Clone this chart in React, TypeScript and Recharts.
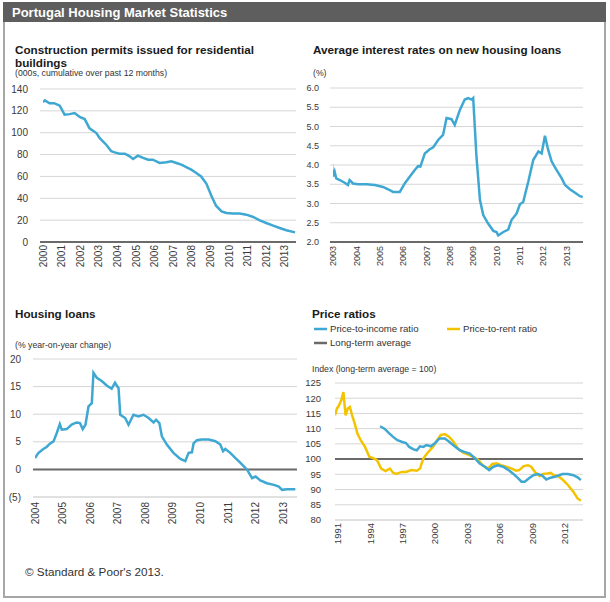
import React from "react";
import {
  LineChart,
  Line,
  XAxis,
  YAxis,
  CartesianGrid,
  ReferenceLine,
} from "recharts";

const FONT = "'Liberation Sans', Arial, sans-serif";
const BLUE = "#3fa8d2";
const YELLOW = "#f3c300";
const DARK = "#6a6a6a";
const GRID = "#d6d6d6";

// [year, value] pairs
const permits: [number, number][] = [
  [2000.0, 128], [2000.1, 129.6], [2000.35, 127], [2000.6, 127], [2000.9, 124.7],
  [2001.16, 116.5], [2001.43, 117], [2001.7, 118], [2001.97, 114.4], [2002.24, 112.5],
  [2002.5, 104], [2002.87, 99.7], [2003.05, 95], [2003.4, 89], [2003.67, 83],
  [2003.85, 82], [2004.12, 80.8], [2004.4, 80.8], [2004.66, 78.4], [2004.84, 76],
  [2005.1, 79], [2005.38, 76.9], [2005.65, 75.3], [2005.9, 75.3], [2006.27, 72.3],
  [2006.63, 72.9], [2006.9, 73.8], [2007.17, 72.3], [2007.44, 70.8], [2007.7, 68.6],
  [2007.97, 66.2], [2008.24, 63.1], [2008.5, 60], [2008.78, 53.4], [2009.05, 42.4],
  [2009.3, 33.2], [2009.6, 28], [2009.86, 26.5], [2010.2, 26], [2010.57, 26],
  [2010.93, 25], [2011.3, 22.9], [2011.65, 19.8], [2012.0, 17.4], [2012.37, 15],
  [2012.72, 12.8], [2013.08, 10.7], [2013.55, 8.8],
];

const rates: [number, number][] = [
  [2002.95, 4.04], [2003.0, 3.7], [2003.07, 3.83], [2003.14, 3.65], [2003.29, 3.61],
  [2003.5, 3.54], [2003.64, 3.48], [2003.71, 3.61], [2003.86, 3.52], [2004.07, 3.5],
  [2004.43, 3.5], [2004.79, 3.48], [2005.14, 3.43], [2005.36, 3.37], [2005.57, 3.3],
  [2005.86, 3.3], [2006.07, 3.52], [2006.29, 3.7], [2006.5, 3.87], [2006.64, 3.97],
  [2006.74, 3.96], [2006.93, 4.3], [2007.14, 4.41], [2007.29, 4.46], [2007.5, 4.65],
  [2007.71, 4.78], [2007.86, 5.22], [2008.07, 5.19], [2008.21, 5.04], [2008.43, 5.43],
  [2008.64, 5.7], [2008.79, 5.74], [2008.93, 5.7], [2009.0, 5.74], [2009.14, 4.22],
  [2009.29, 3.09], [2009.43, 2.7], [2009.64, 2.48], [2009.86, 2.29], [2010.0, 2.26],
  [2010.07, 2.17], [2010.29, 2.26], [2010.5, 2.32], [2010.64, 2.57], [2010.86, 2.74],
  [2011.0, 2.98], [2011.14, 3.04], [2011.36, 3.57], [2011.57, 4.13], [2011.79, 4.35],
  [2011.93, 4.3], [2012.07, 4.76], [2012.21, 4.39], [2012.36, 4.09], [2012.57, 3.87],
  [2012.79, 3.65], [2012.93, 3.48], [2013.14, 3.37], [2013.36, 3.28], [2013.57, 3.19],
  [2013.69, 3.17],
];

const loans: [number, number][] = [
  [2004.0, 2.07], [2004.12, 2.97], [2004.3, 3.7], [2004.42, 4.06], [2004.54, 4.66],
  [2004.67, 5.08], [2004.79, 6.6], [2004.9, 8.2], [2004.97, 7.2], [2005.15, 7.3],
  [2005.33, 8.1], [2005.51, 8.5], [2005.63, 8.4], [2005.73, 7.3], [2005.83, 8.1],
  [2005.94, 11.4], [2006.06, 12.0], [2006.12, 17.5], [2006.24, 16.6], [2006.42, 16.0],
  [2006.6, 15.2], [2006.78, 14.6], [2006.9, 15.7], [2007.03, 14.7], [2007.09, 9.9],
  [2007.27, 9.3], [2007.39, 8.1], [2007.57, 9.9], [2007.75, 9.6], [2007.93, 9.9],
  [2008.12, 9.3], [2008.3, 8.5], [2008.39, 9.0], [2008.51, 8.4], [2008.6, 6.0],
  [2008.78, 4.5], [2009.02, 3.0], [2009.27, 1.9], [2009.45, 1.5], [2009.57, 3.0],
  [2009.69, 3.1], [2009.75, 4.7], [2009.87, 5.3], [2010.05, 5.4], [2010.3, 5.4],
  [2010.54, 5.1], [2010.72, 4.5], [2010.82, 3.3], [2010.9, 3.7], [2011.08, 3.0],
  [2011.26, 2.1], [2011.45, 1.2], [2011.69, -0.05], [2011.87, -1.6], [2012.0, -1.3],
  [2012.17, -2.0], [2012.41, -2.5], [2012.66, -2.8], [2012.84, -3.1], [2012.96, -3.7],
  [2013.14, -3.6], [2013.44, -3.6],
];

const priceToRent: [number, number][] = [
  [1990.72, 114.4], [1990.9, 116.6], [1991.1, 117.7], [1991.3, 119.3], [1991.5, 122],
  [1991.7, 114.4], [1991.9, 116.6], [1992.1, 117.1], [1992.3, 114.4], [1992.5, 112.2],
  [1992.8, 108.4], [1993.1, 106.2], [1993.5, 104], [1993.9, 100.8], [1994.2, 100.4],
  [1994.6, 99.7], [1995.0, 96.9], [1995.4, 96.1], [1995.8, 96.9], [1996.1, 95.5],
  [1996.4, 95.1], [1996.9, 95.8], [1997.3, 95.8], [1997.8, 96.4], [1998.3, 96.2],
  [1998.6, 96.9], [1998.9, 100.2], [1999.3, 102.1], [1999.8, 104], [2000.1, 105.7],
  [2000.5, 107.9], [2000.9, 108.2], [2001.3, 107.3], [2001.7, 105.7], [2002.1, 103.5],
  [2002.6, 102.1], [2003.0, 101.6], [2003.5, 100.8], [2004.0, 99.7], [2004.4, 98],
  [2004.9, 96.9], [2005.3, 98.4], [2005.7, 98.6], [2006.1, 98], [2006.6, 97.5],
  [2007.1, 96.9], [2007.5, 96.2], [2007.8, 96.4], [2008.2, 97.7], [2008.6, 98],
  [2008.9, 97.5], [2009.3, 95.5], [2009.7, 94.4], [2010.0, 95.1], [2010.4, 95.3],
  [2010.7, 95.5], [2011.0, 94.7], [2011.4, 94.4], [2011.8, 93.3], [2012.3, 91.5],
  [2012.8, 89.3], [2013.2, 87.1], [2013.5, 86.3],
];

const priceToIncome: [number, number][] = [
  [1994.9, 110.8], [1995.3, 110], [1995.7, 108.6], [1996.1, 107.3], [1996.5, 106.2],
  [1996.9, 105.7], [1997.3, 105.3], [1997.6, 104], [1998.0, 103.2], [1998.3, 102.9],
  [1998.6, 104.2], [1998.9, 104], [1999.2, 104.6], [1999.6, 104.2], [2000.0, 105.3],
  [2000.4, 106.8], [2000.9, 106.8], [2001.3, 105.7], [2001.8, 104.2], [2002.3, 102.9],
  [2002.7, 102.4], [2003.2, 101.8], [2003.7, 100.2], [2004.1, 98.6], [2004.6, 97.5],
  [2005.0, 96.4], [2005.4, 97.5], [2005.8, 98], [2006.3, 97.5], [2006.8, 96.4],
  [2007.2, 95.3], [2007.7, 93.7], [2008.0, 92.6], [2008.3, 92.6], [2008.7, 93.7],
  [2009.1, 94.7], [2009.5, 95.1], [2009.9, 94.7], [2010.3, 93.3], [2010.7, 93.9],
  [2011.1, 94.2], [2011.5, 94.7], [2011.8, 95.1], [2012.3, 95.1], [2012.8, 94.7],
  [2013.2, 94], [2013.5, 93.1],
];

const permitTicksX = [2000, 2001, 2002, 2003, 2004, 2005, 2006, 2007, 2008, 2009, 2010, 2011, 2012, 2013];
const permitTicksY = [0, 20, 40, 60, 80, 100, 120, 140];
const rateTicksX = [2003, 2004, 2005, 2006, 2007, 2008, 2009, 2010, 2011, 2012, 2013];
const rateTicksY = [2, 2.5, 3, 3.5, 4, 4.5, 5, 5.5, 6];
const loanTicksX = [2004, 2005, 2006, 2007, 2008, 2009, 2010, 2011, 2012, 2013];
const loanTicksY = [-5, 0, 5, 10, 15, 20];
const ratioTicksX = [1991, 1994, 1997, 2000, 2003, 2006, 2009, 2012];
const ratioTicksY = [80, 85, 90, 95, 100, 105, 110, 115, 120, 125];

const ratioLegend = [
  { label: "Price-to-income ratio", color: BLUE, x: 314, y: 329 },
  { label: "Price-to-rent ratio", color: YELLOW, x: 447, y: 329 },
  { label: "Long-term average", color: DARK, x: 314, y: 343 },
];

const toPts = (arr: [number, number][]) => arr.map(([x, y]) => ({ x, y }));

function RotTick(props: any) {
  const { x, y, payload, fs, gap } = props;
  return (
    <g transform={`translate(${x},${y + gap}) rotate(-90)`}>
      <text
        x={0}
        y={0}
        textAnchor="end"
        dy="0.35em"
        fontSize={fs}
        fontFamily={FONT}
        fill="#3a3a3a"
      >
        {payload.value}
      </text>
    </g>
  );
}

function Panel(props: {
  left: number;
  top: number;
  width: number;
  height: number;
  margin: { top: number; right: number; bottom: number; left: number };
  yWidth: number;
  xHeight: number;
  xDomain: [number, number];
  xTicks: number[];
  yDomain: [number, number];
  yTicks: number[];
  fs: number;
  padLeft: number;
  tickMargin: number;
  gap: number;
  darkAxis: boolean;
  refY?: number;
  yFormat?: (v: number) => string;
  children: React.ReactNode;
}) {
  const p = props;
  return (
    <div style={{ position: "absolute", left: p.left, top: p.top }}>
      <LineChart width={p.width} height={p.height} margin={p.margin}>
        <CartesianGrid vertical={false} stroke={GRID} strokeWidth={1} />
        <XAxis
          type="number"
          dataKey="x"
          domain={p.xDomain}
          ticks={p.xTicks}
          allowDataOverflow
          height={p.xHeight}
          padding={{ left: p.padLeft, right: 0 }}
          tickLine={false}
          tickSize={0}
          tickMargin={0}
          axisLine={
            p.darkAxis
              ? { stroke: DARK, strokeWidth: 2 }
              : { stroke: GRID, strokeWidth: 1 }
          }
          interval={0}
          tick={<RotTick fs={p.fs} gap={p.gap} />}
        />
        <YAxis
          type="number"
          domain={p.yDomain}
          ticks={p.yTicks}
          width={p.yWidth}
          interval={0}
          tickLine={false}
          axisLine={false}
          tickMargin={p.tickMargin}
          tickFormatter={p.yFormat}
          tick={{ fontSize: p.fs, fill: "#3a3a3a", fontFamily: FONT }}
        />
        {p.refY !== undefined && (
          <ReferenceLine y={p.refY} stroke={DARK} strokeWidth={2} />
        )}
        {p.children}
      </LineChart>
    </div>
  );
}

export default function App() {
  return (
    <div
      style={{
        position: "relative",
        width: 610,
        height: 602,
        background: "#fff",
        fontFamily: FONT,
        overflow: "hidden",
      }}
    >
      <style>{"body{margin:0}"}</style>
      <div
        style={{
          position: "absolute",
          left: 3,
          top: 2,
          width: 603,
          height: 596,
          border: "2px solid #a6a6a6",
          boxSizing: "border-box",
        }}
      />
      <div
        style={{
          position: "absolute",
          left: 3,
          top: 2,
          width: 603,
          height: 20,
          background: "#5e5e5e",
        }}
      />

      <Panel
        left={0}
        top={80}
        width={305}
        height={200}
        margin={{ top: 9, right: 9, bottom: 8, left: 0 }}
        yWidth={40}
        xHeight={30}
        xDomain={[2000, 2013.6]}
        xTicks={permitTicksX}
        yDomain={[0, 140]}
        yTicks={permitTicksY}
        fs={10}
        padLeft={3}
        tickMargin={6}
        gap={3}
        darkAxis
      >
        <Line data={toPts(permits)} dataKey="y" type="linear" stroke={BLUE} strokeWidth={2.5} dot={false} isAnimationActive={false} />
      </Panel>

      <Panel
        left={300}
        top={80}
        width={305}
        height={200}
        margin={{ top: 8, right: 22, bottom: 8, left: 0 }}
        yWidth={30}
        xHeight={30}
        xDomain={[2003, 2013.7]}
        xTicks={rateTicksX}
        yDomain={[2, 6]}
        yTicks={rateTicksY}
        fs={9}
        padLeft={3}
        tickMargin={5}
        gap={4}
        darkAxis
        yFormat={(v) => v.toFixed(1)}
      >
        <Line data={toPts(rates)} dataKey="y" type="linear" stroke={BLUE} strokeWidth={2.5} dot={false} isAnimationActive={false} />
      </Panel>

      <Panel
        left={0}
        top={340}
        width={305}
        height={190}
        margin={{ top: 19, right: 8, bottom: 5, left: 0 }}
        yWidth={33}
        xHeight={28}
        xDomain={[2004, 2013.5]}
        xTicks={loanTicksX}
        yDomain={[-5, 20]}
        yTicks={loanTicksY}
        fs={10}
        padLeft={2}
        tickMargin={6}
        gap={5}
        darkAxis={false}
        refY={0}
        yFormat={(v) => (v < 0 ? `(${Math.abs(v)})` : String(v))}
      >
        <Line data={toPts(loans)} dataKey="y" type="linear" stroke={BLUE} strokeWidth={2.5} dot={false} isAnimationActive={false} />
      </Panel>

      <Panel
        left={300}
        top={370}
        width={305}
        height={190}
        margin={{ top: 13, right: 22, bottom: 5, left: 0 }}
        yWidth={35}
        xHeight={35}
        xDomain={[1990.72, 2013.7]}
        xTicks={ratioTicksX}
        yDomain={[80, 125]}
        yTicks={ratioTicksY}
        fs={9.5}
        padLeft={0}
        tickMargin={8}
        gap={3}
        darkAxis={false}
        refY={100}
      >
        <Line data={toPts(priceToRent)} dataKey="y" type="linear" stroke={YELLOW} strokeWidth={2.5} dot={false} isAnimationActive={false} />
        <Line data={toPts(priceToIncome)} dataKey="y" type="linear" stroke={BLUE} strokeWidth={2.5} dot={false} isAnimationActive={false} />
      </Panel>

      <svg
        width={610}
        height={602}
        style={{ position: "absolute", left: 0, top: 0, pointerEvents: "none" }}
        fontFamily={FONT}
      >
        <text x={12} y={16.5} fontSize={13} fontWeight="bold" fill="#fff">
          Portugal Housing Market Statistics
        </text>

        <text x={15} y={54} fontSize={11.7} fontWeight="bold" fill="#1a1a1a">
          Construction permits issued for residential
        </text>
        <text x={15} y={66.5} fontSize={11.7} fontWeight="bold" fill="#1a1a1a">
          buildings
        </text>
        <text x={15} y={75.5} fontSize={8.7} fill="#333">
          (000s, cumulative over past 12 months)
        </text>

        <text x={313} y={54} fontSize={11.7} fontWeight="bold" fill="#1a1a1a">
          Average interest rates on new housing loans
        </text>
        <text x={313} y={75.5} fontSize={8.7} fill="#333">
          (%)
        </text>

        <text x={15} y={317.5} fontSize={11.7} fontWeight="bold" fill="#1a1a1a">
          Housing loans
        </text>
        <text x={15} y={348} fontSize={8.7} fill="#333">
          (% year-on-year change)
        </text>

        <text x={312} y={317.5} fontSize={11.7} fontWeight="bold" fill="#1a1a1a">
          Price ratios
        </text>
        {ratioLegend.map((d) => (
          <g key={d.label}>
            <line x1={d.x} x2={d.x + 13} y1={d.y} y2={d.y} stroke={d.color} strokeWidth={2.5} />
            <text x={d.x + 16} y={d.y + 3.3} fontSize={9.6} fill="#333">
              {d.label}
            </text>
          </g>
        ))}
        <text x={312} y={372.3} fontSize={8.7} fill="#333">
          Index (long-term average = 100)
        </text>

        <text x={25} y={576} fontSize={11.7} fill="#333">
          © Standard &amp; Poor's 2013.
        </text>
      </svg>
    </div>
  );
}
